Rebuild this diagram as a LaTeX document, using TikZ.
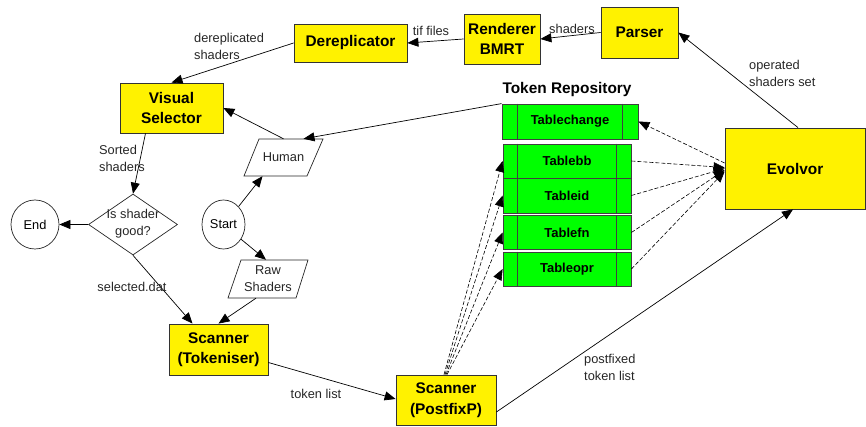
\documentclass[tikz,border=0pt]{standalone}
\usepackage{fontspec}
\setmainfont{Liberation Sans}
\usetikzlibrary{shapes.geometric,arrows.meta,calc}
\tikzset{
  box/.style={draw=black!80, line width=0.8pt, fill=yellow, inner sep=0pt, align=center,
    font=\bfseries\fontsize{15.4}{20.5}\selectfont},
  tbl/.style={draw=black!75, line width=0.8pt, fill=green, inner sep=0pt,
    font=\bfseries\fontsize{13}{16}\selectfont, minimum width=128pt},
  lbl/.style={inner sep=0pt, align=left, text=black!85, font=\fontsize{12.8}{17}\selectfont},
  shp/.style={draw=black!85, line width=0.7pt, fill=white, inner sep=0pt},
  arr/.style={line width=0.7pt, -{Triangle[length=11pt,width=9pt]}},
  darr/.style={line width=0.6pt, dash pattern=on 4pt off 2pt, -{Triangle[length=11pt,width=9pt,sep=0pt]}},
}
\begin{document}
\begin{tikzpicture}[x=1pt,y=-1pt]
\useasboundingbox (0,0) rectangle (866,427);
% yellow boxes
\node[box, minimum width=113pt, minimum height=38pt] (derep) at (350.5,43) {Dereplicator};
\node[box, minimum width=76pt, minimum height=50pt] (render) at (502,39) {Renderer\\BMRT};
\node[box, minimum width=77pt, minimum height=51pt] (parser) at (639.5,32.5) {Parser};
\node[box, minimum width=103pt, minimum height=50pt] (vissel) at (171.5,108) {Visual\\Selector};
\node[box, minimum width=99pt, minimum height=51pt] (tok) at (218.5,349.5) {Scanner\\(Tokeniser)};
\node[box, minimum width=100pt, minimum height=50pt] (pf) at (446,400) {Scanner\\(PostfixP)};
\node[box, minimum width=140pt, minimum height=81pt] (evo) at (795,168.5) {Evolvor};
% flowchart shapes
\node[shp, ellipse, minimum width=48pt, minimum height=49pt, font=\fontsize{12.8}{16}\selectfont] (end) at (35,224.5) {End};
\node[shp, ellipse, minimum width=43pt, minimum height=49pt, font=\fontsize{12.8}{16}\selectfont] (start) at (223.5,224.5) {Start};
\node[shp, diamond, minimum width=89pt, minimum height=61pt, fill=none,
  label={[lbl, align=center, fill=none, yshift=1pt]center:Is shader\\good?}] (dec) at (133,224.5) {};
% parallelograms
\draw[shp] (259,139) -- (323,139) -- (307,176) -- (244,176) -- cycle;
\node[lbl, minimum width=64pt, minimum height=37pt, align=center] (human) at (283.5,157.5) {Human};
\draw[shp] (241,260) -- (308,260) -- (296,298) -- (228,298) -- cycle;
\node[lbl, minimum width=67pt, minimum height=38pt, align=center] (raw) at (268,279) {Raw\\Shaders};
% token repository
\node[font=\bfseries\fontsize{15.4}{18}\selectfont, inner sep=0pt] (repo) at (567,90) {Token Repository};
\node[tbl, minimum width=136pt, minimum height=35pt] (tc) at (570,121.5) {Tablechange};
\node[tbl, minimum height=34pt] (tbb) at (567,161) {Tablebb};
\node[tbl, minimum height=35pt] (tid) at (567,195.5) {Tableid};
\node[tbl, minimum height=34pt] (tfn) at (567,232.5) {Tablefn};
\node[tbl, minimum height=34pt] (top) at (567,269) {Tableopr};
\foreach \n/\a/\b in {tc/16pt/16pt, tbb/15pt/15pt, tid/15pt/15pt, tfn/15pt/15pt, top/15pt/15pt}{
  \draw[black!75, line width=0.8pt] ([xshift=\a]\n.north west) -- ([xshift=\a]\n.south west);
  \draw[black!75, line width=0.8pt] ([xshift=-\b]\n.north east) -- ([xshift=-\b]\n.south east);
}
% connectors
\draw[arr] (parser.west) -- (render.east);
\draw[arr] (render.west) -- (derep.east);
\draw[arr] (derep.west) -- (vissel.north);
\draw[arr] ([xshift=-26pt]vissel.south) -- (dec.north);
\draw[arr] (dec.west) -- (end.east);
\draw[arr] (dec.south) -- ([xshift=-26pt]tok.north);
\draw[arr] (start.50) -- ([xshift=-21pt]human.south);
\draw[arr] (start.-40) -- ([xshift=-2pt]raw.north);
\draw[arr] ([xshift=-12pt]raw.south) -- (tok.north);
\draw[arr] (human.north) -- (vissel.east);
\draw[arr] (tc.north west) -- ([xshift=20pt]human.north);
\draw[arr] ([xshift=3pt]evo.north) -- (parser.east);
\draw[arr] ([yshift=-12pt]pf.east) -- ([xshift=-2pt]evo.south);
\draw[arr] ([yshift=-13pt]tok.east) -- ([yshift=1pt]pf.west);
\draw[darr] ([yshift=5.5pt]evo.west) -- (tc.east);
\draw[darr] (tbb.east) -- ([yshift=1pt]evo.west);
\draw[darr] (tid.east) -- ([yshift=0pt]evo.west);
\draw[darr] (tfn.east) -- ([yshift=-1.5pt]evo.west);
\draw[darr] (top.east) -- ([yshift=-3pt]evo.west);
\draw[darr] ([xshift=-2pt]pf.north) -- (tbb.west);
\draw[darr] ([xshift=-1pt]pf.north) -- (tid.west);
\draw[darr] ([xshift=0pt]pf.north) -- (tfn.west);
\draw[darr] ([xshift=1pt]pf.north) -- (top.west);
% labels
\node[lbl] (l1) at (572,29) {shaders};
\node[lbl] (l2) at (431,31) {tif files};
\node[lbl, anchor=west] (l3) at (194,46) {dereplicated\\shaders};
\node[lbl, anchor=west] (l4) at (99,158.5) {Sorted\\shaders};
\node[lbl] (l5) at (132,287) {selected.dat};
\node[lbl] (l6) at (316,394) {token list};
\node[lbl, anchor=west] (l7) at (584,367.5) {postfixed\\token list};
\node[lbl, anchor=west] (l8) at (749,73.5) {operated\\shaders set};
\end{tikzpicture}
\end{document}
